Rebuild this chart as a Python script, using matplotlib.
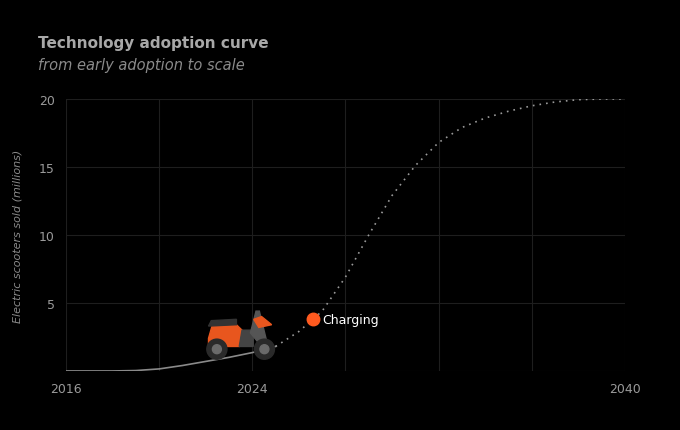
import matplotlib
matplotlib.use("Agg")
import matplotlib.pyplot as plt
from matplotlib.patches import Ellipse, Polygon

years_actual = [2016, 2017, 2018, 2019, 2020, 2021, 2022, 2023, 2024, 2025]
sold_actual = [0, 0, 0, 0.03, 0.15, 0.4, 0.7, 1.0, 1.35, 1.8]
years_proj = [2025, 2026, 2027, 2028, 2029, 2030, 2031, 2032, 2033, 2034, 2035, 2036, 2037, 2038, 2039, 2040]
sold_proj = [1.8, 2.9, 4.4, 6.9, 10.0, 12.9, 15.1, 16.8, 17.9, 18.6, 19.1, 19.5, 19.78, 19.95, 20, 20]
marker_year, marker_val, marker_label = 2026.6, 3.8, "Charging"
xticks = [2016, 2024, 2040]
yticks = [5, 10, 15, 20]

fig = plt.figure(figsize=(6.8, 4.31), dpi=100, facecolor="black")
ax = fig.add_axes([0.097, 0.137, 0.822, 0.631], facecolor="black")
ax.set_xlim(2016, 2040)
ax.set_ylim(0, 20)
for x in range(2016, 2041, 4):
    ax.axvline(x, color="#1e1e1e", lw=0.8, zorder=0)
for y in [0, 5, 10, 15, 20]:
    ax.axhline(y, color="#1e1e1e", lw=0.8, zorder=0)
for s in ax.spines.values():
    s.set_visible(False)
ax.set_xticks(xticks)
ax.set_yticks(yticks)
ax.tick_params(colors="#9a9a9a", length=0, labelsize=9, pad=8)
ax.set_ylabel("Electric scooters sold (millions)", color="#8a8a8a", fontsize=8, style="italic", labelpad=12)

ax.plot(years_actual, sold_actual, color="#8a8a8a", lw=1.2)
ax.plot(years_proj, sold_proj, color="#9a9a9a", lw=1.2, ls=(0, (1, 3)))
ax.plot(marker_year, marker_val, "o", color="#ff5a1f", ms=9, zorder=5)
ax.text(marker_year + 0.4, marker_val, marker_label, color="white", fontsize=9, va="center")

# decorative scooter
T = ax.transAxes
def P(pts, c, z=4):
    ax.add_patch(Polygon(pts, closed=True, color=c, transform=T, zorder=z))
for cx in (0.27, 0.355):
    ax.add_patch(Ellipse((cx, 0.08), 0.036, 0.074, color="#2a2a2a", transform=T, zorder=5))
    ax.add_patch(Ellipse((cx, 0.08), 0.016, 0.033, color="#6a6a6a", transform=T, zorder=5))
P([(0.255, 0.12), (0.262, 0.17), (0.30, 0.18), (0.315, 0.15), (0.31, 0.09), (0.255, 0.09)], "#e8561e")
P([(0.255, 0.165), (0.26, 0.185), (0.305, 0.19), (0.305, 0.17)], "#333333")
P([(0.31, 0.09), (0.315, 0.15), (0.335, 0.15), (0.335, 0.09)], "#444444")
P([(0.33, 0.14), (0.34, 0.22), (0.346, 0.22), (0.362, 0.085), (0.352, 0.085)], "#555555")
P([(0.336, 0.19), (0.35, 0.2), (0.368, 0.17), (0.345, 0.16)], "#e8561e")

fig.text(0.056, 0.888, "Technology adoption curve", color="#a8a8a8", fontsize=11, fontweight="bold")
fig.text(0.056, 0.838, "from early adoption to scale", color="#8a8a8a", fontsize=10.5, style="italic")
fig.savefig("out.png", dpi=100, facecolor="black")
